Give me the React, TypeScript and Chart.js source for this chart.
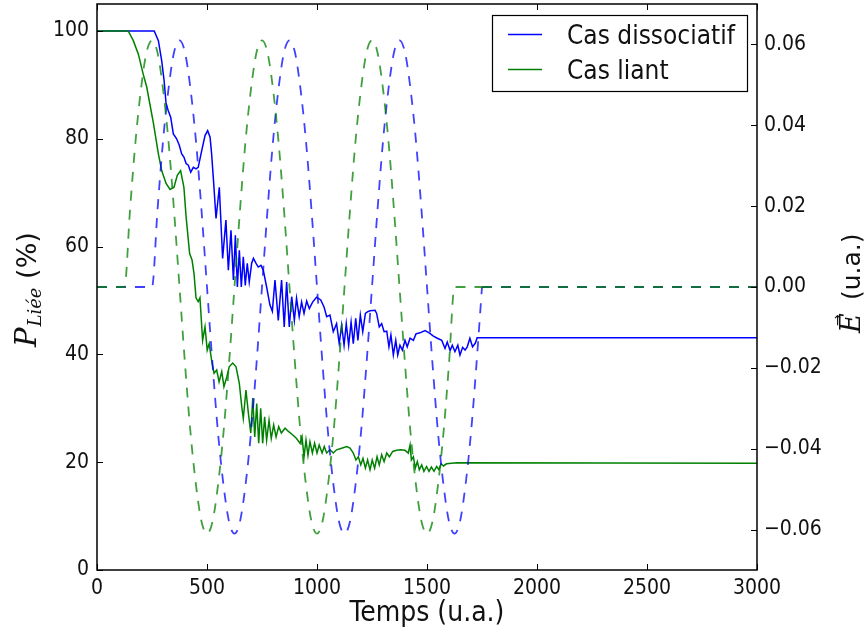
import React, { useEffect, useRef } from 'react';
import { Chart, registerables } from 'chart.js';
Chart.register(...registerables);

// ---------- data ----------
const timeDissociatif = [0, 260, 279, 294, 305, 314, 324, 335, 347, 362, 374, 385, 395, 405, 415, 426, 438, 450, 460, 476, 491, 503, 514, 521, 530, 541, 556, 571, 586, 597, 609, 620, 629, 638, 647, 656, 665, 674, 683, 692, 703, 711, 723, 733, 745, 756, 771, 786, 797, 809, 824, 839, 851, 862, 874, 885, 897, 907, 919, 930, 941, 953, 965, 980, 998, 1017, 1032, 1044, 1059, 1074, 1089, 1101, 1112, 1123, 1133, 1144, 1155, 1165, 1176, 1186, 1197, 1208, 1220, 1229, 1241, 1264, 1271, 1283, 1294, 1305, 1317, 1327, 1336, 1347, 1358, 1367, 1377, 1388, 1400, 1410, 1423, 1438, 1450, 1468, 1491, 1510, 1529, 1547, 1567, 1582, 1592, 1605, 1615, 1627, 1640, 1650, 1662, 1673, 1683, 1695, 1707, 1720, 1728, 1738, 3000];
const popDissociatif = [100, 100, 98.2, 94.5, 90.8, 86.5, 85.2, 84.0, 80.9, 80.0, 78.8, 77.2, 76.6, 75.4, 75.1, 73.8, 74.7, 74.4, 74.7, 77.8, 80.6, 81.5, 80.3, 77.2, 72.0, 65.2, 71.0, 57.8, 64.9, 55.6, 63.0, 53.8, 62.1, 52.5, 59.3, 52.5, 58.1, 52.8, 56.9, 53.4, 56.9, 57.8, 56.9, 56.2, 56.5, 55.6, 52.5, 49.2, 48.0, 53.8, 46.3, 53.8, 45.1, 53.4, 45.1, 50.7, 46.3, 50.4, 47.0, 49.7, 47.6, 49.9, 48.5, 49.7, 50.6, 50.1, 48.8, 47.0, 47.3, 44.2, 45.7, 42.0, 45.4, 41.7, 45.7, 41.7, 46.0, 42.0, 46.7, 42.6, 47.3, 44.2, 47.6, 47.9, 48.1, 48.2, 47.6, 45.1, 45.7, 44.2, 44.3, 41.4, 43.6, 39.9, 42.6, 39.9, 41.7, 40.8, 42.6, 41.4, 43.0, 42.6, 43.8, 44.0, 44.4, 44.0, 43.4, 43.0, 42.6, 41.1, 42.3, 40.7, 41.7, 40.5, 41.7, 39.9, 41.3, 40.8, 41.4, 43.0, 41.4, 42.1, 43.1, 43.1, 43.1];

const timeLiant = [0, 142, 165, 188, 210, 226, 256, 279, 294, 314, 332, 350, 365, 380, 395, 405, 421, 432, 441, 450, 460, 468, 480, 491, 501, 510, 521, 532, 544, 555, 567, 577, 590, 601, 617, 632, 647, 658, 665, 677, 688, 699, 708, 717, 726, 735, 744, 753, 762, 771, 782, 792, 803, 814, 826, 838, 855, 870, 889, 907, 923, 932, 941, 950, 959, 968, 979, 989, 1000, 1010, 1023, 1033, 1044, 1059, 1074, 1089, 1112, 1135, 1150, 1165, 1177, 1188, 1199, 1209, 1220, 1230, 1241, 1251, 1262, 1273, 1283, 1294, 1305, 1317, 1329, 1344, 1362, 1380, 1400, 1415, 1423, 1429, 1438, 1447, 1456, 1465, 1476, 1486, 1498, 1509, 1520, 1532, 1544, 1554, 1564, 1575, 1589, 1612, 1635, 3000];
const popLiant = [100, 100, 98.2, 95.7, 92.0, 89.6, 83.0, 77.2, 74.1, 71.7, 70.6, 71.0, 73.2, 74.1, 71.0, 65.5, 58.7, 57.5, 55.0, 50.5, 49.8, 50.5, 42.6, 45.1, 40.8, 42.0, 38.9, 36.5, 37.1, 34.9, 36.8, 34.0, 35.8, 37.7, 38.4, 37.7, 34.6, 30.3, 28.1, 33.4, 29.1, 25.4, 31.9, 24.7, 30.9, 23.5, 30.0, 23.5, 28.4, 24.1, 27.8, 24.4, 26.9, 24.7, 26.6, 25.4, 26.3, 25.7, 25.1, 24.4, 23.5, 24.7, 21.0, 24.1, 21.3, 23.8, 21.7, 23.5, 21.7, 23.2, 21.7, 22.9, 21.7, 22.3, 21.7, 22.3, 22.6, 22.9, 22.6, 21.7, 20.4, 21.0, 19.5, 20.7, 18.9, 20.4, 18.6, 20.4, 18.9, 21.0, 19.5, 21.4, 20.1, 21.7, 21.0, 22.0, 22.2, 22.3, 22.2, 21.7, 23.2, 20.4, 21.0, 18.9, 20.1, 18.6, 19.5, 18.3, 19.2, 18.3, 19.1, 18.3, 19.2, 18.6, 19.7, 19.3, 19.7, 19.8, 19.9, 19.8];

const fieldTimeDissociatif = [0, 250, 275, 300, 325, 350, 375, 400, 425, 450, 475, 500, 525, 550, 575, 600, 625, 650, 675, 700, 725, 750, 775, 800, 825, 850, 875, 900, 925, 950, 975, 1000, 1025, 1050, 1075, 1100, 1125, 1150, 1175, 1200, 1225, 1250, 1275, 1300, 1325, 1350, 1375, 1400, 1425, 1450, 1475, 1500, 1525, 1550, 1575, 1600, 1625, 1650, 1675, 1700, 1725, 1750];
const fieldDissociatif = [0,
  0, 0.019, 0.036, 0.049, 0.058, 0.061, 0.058, 0.049, 0.036, 0.019,
  0, -0.019, -0.036, -0.049, -0.058, -0.061, -0.058, -0.049, -0.036, -0.019,
  0, 0.019, 0.036, 0.049, 0.058, 0.061, 0.058, 0.049, 0.036, 0.019,
  0, -0.019, -0.036, -0.049, -0.058, -0.061, -0.058, -0.049, -0.036, -0.019,
  0, 0.019, 0.036, 0.049, 0.058, 0.061, 0.058, 0.049, 0.036, 0.019,
  0, -0.019, -0.036, -0.049, -0.058, -0.061, -0.058, -0.049, -0.036, -0.019,
  0];

const fieldTimeLiant = [0, 125, 150, 175, 200, 225, 250, 275, 300, 325, 350, 375, 400, 425, 450, 475, 500, 525, 550, 575, 600, 625, 650, 675, 700, 725, 750, 775, 800, 825, 850, 875, 900, 925, 950, 975, 1000, 1025, 1050, 1075, 1100, 1125, 1150, 1175, 1200, 1225, 1250, 1275, 1300, 1325, 1350, 1375, 1400, 1425, 1450, 1475, 1500, 1525, 1550, 1575, 1600, 1625, 1750, 3000];
const fieldLiant = [0,
  0, 0.019, 0.036, 0.049, 0.058, 0.061, 0.058, 0.049, 0.036, 0.019,
  0, -0.019, -0.036, -0.049, -0.058, -0.061, -0.058, -0.049, -0.036, -0.019,
  0, 0.019, 0.036, 0.049, 0.058, 0.061, 0.058, 0.049, 0.036, 0.019,
  0, -0.019, -0.036, -0.049, -0.058, -0.061, -0.058, -0.049, -0.036, -0.019,
  0, 0.019, 0.036, 0.049, 0.058, 0.061, 0.058, 0.049, 0.036, 0.019,
  0, -0.019, -0.036, -0.049, -0.058, -0.061, -0.058, -0.049, -0.036, -0.019,
  0, 0, 0];

const xTicks = [0, 500, 1000, 1500, 2000, 2500, 3000];
const leftTicks = [0, 20, 40, 60, 80, 100];
const rightTicks = [-0.06, -0.04, -0.02, 0, 0.02, 0.04, 0.06];
const seriesNames = ['Cas dissociatif', 'Cas liant'];
const xTitle = 'Temps (u.a.)';

// ---------- styles ----------
const BLUE = '#0000ff';
const GREEN = '#008000';
const BLUE_DASH = 'rgba(0,0,255,0.75)';
const GREEN_DASH = 'rgba(0,128,0,0.75)';
const OVERLAP = 'rgb(16,110,66)';
const SANS = '"DejaVu Sans Condensed", "DejaVu Sans", sans-serif';
const SANS_PLAIN = '"DejaVu Sans", sans-serif';
const SERIF = '"DejaVu Serif", serif';
const TXT = '#111';
const DASH = [10, 9];

const zip = (xs: number[], ys: number[]) => xs.map((x, i) => ({ x, y: ys[i] }));
const fmtRight = (v: number) => (v < 0 ? '\u2212' + Math.abs(v).toFixed(2) : v.toFixed(2));

const decorPlugin = {
  id: 'decor',
  afterDraw(chart: any) {
    const { ctx, chartArea: a, scales } = chart;
    ctx.save();
    ctx.strokeStyle = '#000';
    ctx.lineWidth = 1;
    const seg = (x1: number, y1: number, x2: number, y2: number) => {
      ctx.beginPath(); ctx.moveTo(x1, y1); ctx.lineTo(x2, y2); ctx.stroke();
    };
    xTicks.forEach((v) => {
      const px = Math.round(scales.x.getPixelForValue(v)) + 0.5;
      seg(px, a.bottom, px, a.bottom - 6);
      seg(px, a.top, px, a.top + 6);
    });
    leftTicks.forEach((v) => {
      const py = Math.round(scales.y.getPixelForValue(v)) + 0.5;
      seg(a.left, py, a.left + 6, py);
    });
    rightTicks.forEach((v) => {
      const py = Math.round(scales.y1.getPixelForValue(v)) + 0.5;
      seg(a.right, py, a.right - 6, py);
    });
    ctx.lineWidth = 1.5;
    ctx.strokeStyle = '#000';
    ctx.strokeRect(a.left, a.top, a.right - a.left, a.bottom - a.top);

    // legend
    const lx = a.right - 265, ly = a.top + 11, lw = 255, lh = 76;
    ctx.fillStyle = '#fff';
    ctx.fillRect(lx, ly, lw, lh);
    ctx.lineWidth = 1.2;
    ctx.strokeStyle = '#000';
    ctx.strokeRect(lx + 0.5, ly + 0.5, lw, lh);
    const rows = [
      { name: seriesNames[0], color: BLUE, y: ly + 19.5 },
      { name: seriesNames[1], color: GREEN, y: ly + 54.5 },
    ];
    ctx.font = '26px ' + SANS;
    ctx.textBaseline = 'alphabetic';
    ctx.textAlign = 'left';
    rows.forEach((r) => {
      ctx.strokeStyle = r.color;
      ctx.lineWidth = 1.5;
      seg(lx + 16, r.y, lx + 50, r.y);
      ctx.fillStyle = TXT;
      ctx.fillText(r.name, lx + 75, r.y + 9);
    });

    // x title
    ctx.font = '28px ' + SANS;
    ctx.textAlign = 'center';
    ctx.fillStyle = TXT;
    ctx.fillText(xTitle, (a.left + a.right) / 2, a.bottom + 51);

    // left title: P_{Liée} (%)
    ctx.save();
    ctx.translate(36, 347);
    ctx.rotate(-Math.PI / 2);
    ctx.textAlign = 'left';
    ctx.font = 'italic 29px ' + SERIF;
    ctx.fillText('P', 0, 0);
    let off = ctx.measureText('P').width + 1;
    ctx.font = 'italic 18px ' + SERIF;
    ctx.fillText('Liée', off, 5);
    off += ctx.measureText('Liée').width;
    ctx.font = '27px ' + SANS_PLAIN;
    off += ctx.measureText(' ').width;
    ctx.fillText('(%)', off, 0);
    ctx.restore();

    // right title: E-vector (u.a.)
    ctx.save();
    ctx.translate(860, 333);
    ctx.rotate(-Math.PI / 2);
    ctx.textAlign = 'left';
    ctx.font = 'italic 27px ' + SERIF;
    ctx.fillText('E', 0, 0);
    const ew = ctx.measureText('E').width;
    ctx.font = '14px ' + SANS_PLAIN;
    ctx.textAlign = 'center';
    ctx.fillText('\u2192', ew / 2 + 3, -18);
    ctx.textAlign = 'left';
    ctx.font = '25px ' + SANS_PLAIN;
    ctx.fillText('(u.a.)', 33, 0);
    ctx.restore();

    ctx.restore();
  },
};

export default function App() {
  const ref = useRef<HTMLCanvasElement>(null);
  useEffect(() => {
    const tickFont = { family: SANS, size: 21 };
    const fitY = (w: number) => (s: any) => { s.width = w; s.paddingTop = 0; s.paddingBottom = 0; };
    const chart = new Chart(ref.current as HTMLCanvasElement, {
      type: 'line',
      data: {
        datasets: [
          {
            label: seriesNames[0], data: zip(timeDissociatif, popDissociatif), yAxisID: 'y',
            borderColor: BLUE, borderWidth: 1.5, pointRadius: 0, tension: 0, order: 4,
          },
          {
            label: seriesNames[1], data: zip(timeLiant, popLiant), yAxisID: 'y',
            borderColor: GREEN, borderWidth: 1.5, pointRadius: 0, tension: 0, order: 3,
          },
          {
            label: 'E ' + seriesNames[0], data: zip(fieldTimeDissociatif, fieldDissociatif), yAxisID: 'y1',
            borderColor: BLUE_DASH, borderWidth: 1.8, borderDash: DASH, pointRadius: 0,
            cubicInterpolationMode: 'monotone', order: 2,
          },
          {
            label: 'E ' + seriesNames[1], data: zip(fieldTimeLiant, fieldLiant), yAxisID: 'y1',
            borderColor: GREEN_DASH, borderWidth: 1.8, borderDash: DASH, pointRadius: 0,
            cubicInterpolationMode: 'monotone', order: 1,
            segment: {
              borderColor: (c: any) => (c.p0.parsed.x >= fieldTimeDissociatif[fieldTimeDissociatif.length - 1] ? OVERLAP : undefined),
            },
          },
        ],
      },
      options: {
        animation: false,
        responsive: false,
        devicePixelRatio: 1,
        layout: { padding: { top: 4, left: 0, right: 0, bottom: 0 } },
        plugins: { legend: { display: false }, tooltip: { enabled: false }, title: { display: false } },
        scales: {
          x: {
            type: 'linear', min: 0, max: 3000, position: 'bottom',
            afterBuildTicks: (s: any) => { s.ticks = xTicks.map((v) => ({ value: v })); },
            afterFit: (s: any) => { s.height = 67; s.paddingLeft = 0; s.paddingRight = 0; },
            ticks: { font: tickFont, color: TXT, padding: 6, maxRotation: 0, autoSkip: false, callback: (v: any) => String(v) },
            grid: { display: false, drawTicks: false },
            border: { display: false },
          },
          y: {
            type: 'linear', min: 0, max: 105, position: 'left',
            afterBuildTicks: (s: any) => { s.ticks = leftTicks.map((v) => ({ value: v })); },
            afterFit: fitY(97),
            ticks: { font: tickFont, color: TXT, padding: 8, autoSkip: false, callback: (v: any) => String(v) },
            grid: { display: false, drawTicks: false },
            border: { display: false },
          },
          y1: {
            type: 'linear', min: -0.07, max: 0.07, position: 'right',
            afterBuildTicks: (s: any) => { s.ticks = rightTicks.map((v) => ({ value: v })); },
            afterFit: fitY(108),
            ticks: { font: tickFont, color: TXT, padding: 7, autoSkip: false, callback: (v: any) => fmtRight(Number(v)) },
            grid: { display: false, drawTicks: false },
            border: { display: false },
          },
        },
      },
      plugins: [decorPlugin],
    } as any);
    return () => chart.destroy();
  }, []);
  return (
    <div style={{ position: 'fixed', left: 0, top: 0, width: 865, height: 637, background: '#fff' }}>
      <canvas ref={ref} width={865} height={637} style={{ display: 'block', width: 865, height: 637 }} />
    </div>
  );
}
